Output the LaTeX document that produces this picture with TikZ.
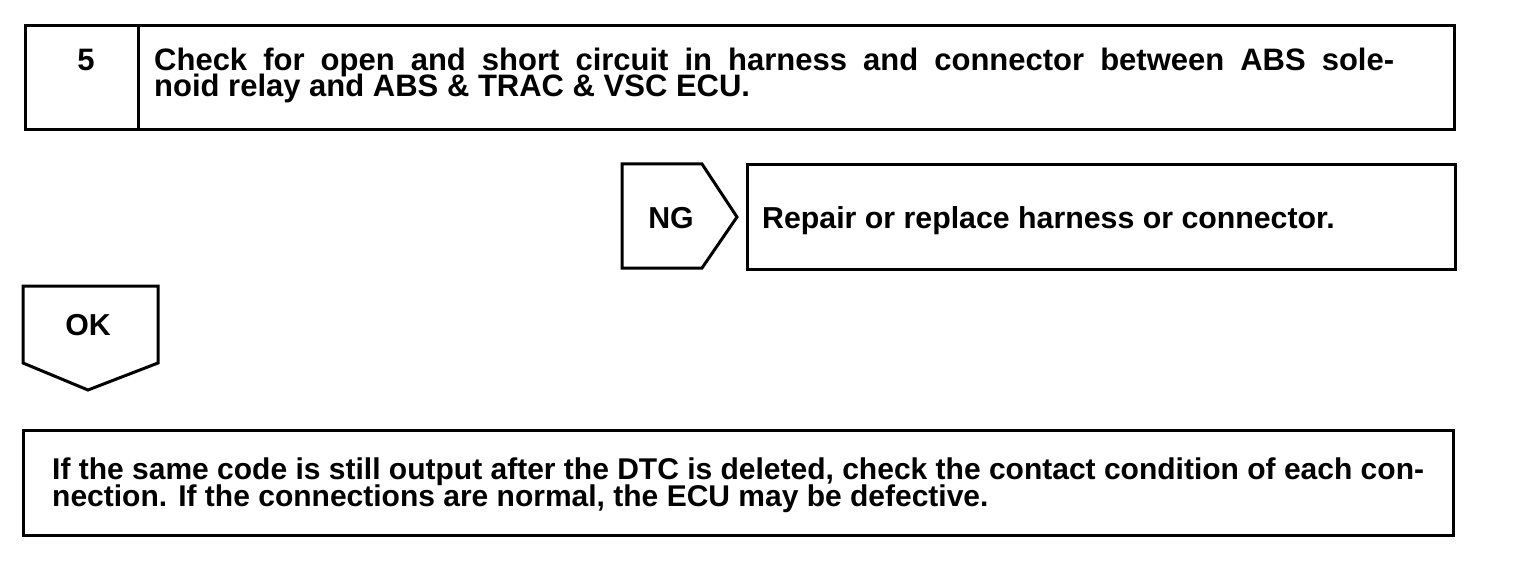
\documentclass[tikz,border=0pt]{standalone}
\usepackage{fontspec}
\setmainfont{Liberation Sans}
\usetikzlibrary{positioning}
\newcommand\tightlines{\lineskiplimit=-1000pt\relax}
\tikzset{
    frame/.style={draw, line width=3pt, line join=miter},
    lbl/.style={font=\fontsize{30.3}{25}\selectfont\bfseries, inner sep=0pt, anchor=base},
    para/.style={lbl, align=left, anchor=base west}
}

\begin{document}
\begin{tikzpicture}[x=1pt,y=-1pt]
\useasboundingbox (0,0) rectangle (1520,588);
% step 5
\draw[frame] (25,26) rectangle (1454,130);
\draw[frame] (138,26)--(138,130);
\node[lbl,font=\fontsize{31}{26}\selectfont\bfseries] (num) at (86,71) {5};
\node[para,align=justify,text width=1240pt,
      font=\fontsize{31}{26}\selectfont\bfseries\tightlines] (check) at (154,71)
  {Check for open and short circuit in harness and connector between ABS sole-\linebreak noid relay and ABS \& TRAC \& VSC ECU.};
% NG branch
\draw[frame] (622,164)--(702,164)--(737,217)--(702,268)--(622,268)--cycle;
\node[lbl] (ng) at (671,228) {NG};
\draw[frame] (747,165) rectangle (1455,269);
\node[para] (repair) at (762,229) {Repair or replace harness or connector.};
% OK branch
\draw[frame] (23,286)--(158,286)--(158,363)--(88,390)--(23,363)--cycle;
\node[lbl] (ok) at (88,335) {OK};
\draw[frame] (23,430) rectangle (1453,535);
\node[para,font=\fontsize{30}{27}\selectfont\bfseries\tightlines] (note) at (52,506)
  {If the same code is still output after the DTC is deleted, check the contact condition of each con-\\nection. If the connections are normal, the ECU may be defective.};
\end{tikzpicture}
\end{document}
